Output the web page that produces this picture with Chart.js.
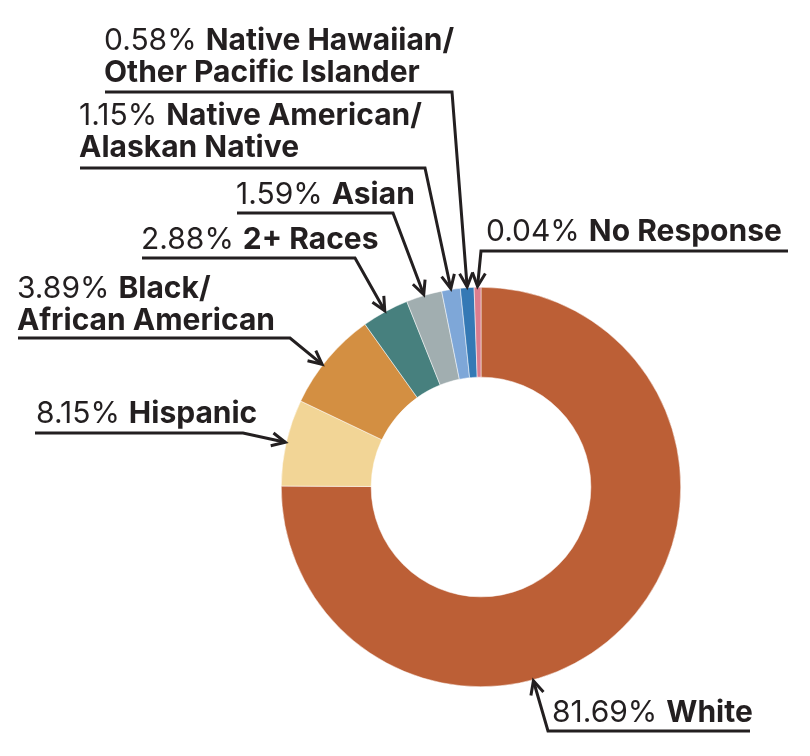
<!DOCTYPE html>
<html>
<head>
<meta charset="utf-8">
<style>
  html, body { margin: 0; padding: 0; background: #fff; }
  #wrap { width: 810px; height: 756px; }
</style>
<script src="https://cdn.jsdelivr.net/npm/chart.js@4.4.1/dist/chart.umd.min.js"></script>
</head>
<body>
<div id="wrap"><canvas id="race" width="810" height="756"></canvas></div>
<script>
// slice order runs clockwise from 12 o'clock
var groups = ['White', 'Hispanic', 'Black/African American', '2+ Races', 'Asian',
              'Native American/Alaskan Native', 'Native Hawaiian/Other Pacific Islander', 'No Response'];
// slice sizes as drawn in the picture (share of the ring, %)
var sliceShares = [75.0, 7.0, 8.05, 3.8, 2.9, 1.5, 1.1, 0.55];
// printed percentages next to each label
var pctLabels = ['81.69%', '8.15%', '3.89%', '2.88%', '1.59%', '1.15%', '0.58%', '0.04%'];
var nameLines = [['White'], ['Hispanic'], ['Black/', 'African American'], ['2+ Races'], ['Asian'],
                 ['Native American/', 'Alaskan Native'], ['Native Hawaiian/', 'Other Pacific Islander'], ['No Response']];
var sliceColors = ['#bc5f36', '#f2d596', '#d38f42', '#47807e', '#a1aeb0', '#7ea7d8', '#3479b5', '#db7d8e'];

// callout layout: text start, first baseline, underline, elbow side, where along the slice the arrow lands
var callouts = [
  { x: 552, y: 722, lineY: 731, x0: 548, x1: 750, elbow: 'left',  frac: 0.61 },
  { x: 36,  y: 423, lineY: 433, x0: 35,  x1: 243, elbow: 'right', frac: 0.5 },
  { x: 17,  y: 298, lineY: 338, x0: 18,  x1: 290, elbow: 'right', frac: 0.42 },
  { x: 141, y: 249, lineY: 258, x0: 142, x1: 355, elbow: 'right', frac: 0.5 },
  { x: 236, y: 204, lineY: 213, x0: 237, x1: 393, elbow: 'right', frac: 0.5 },
  { x: 79,  y: 125, lineY: 168, x0: 80,  x1: 425, elbow: 'right', frac: 0.5 },
  { x: 104, y: 50,  lineY: 92,  x0: 105, x1: 452, elbow: 'right', frac: 0.5 },
  { x: 486, y: 241, lineY: 251, x0: 481, x1: 788, elbow: 'left',  frac: 0.5 }
];

var ink = '#231f20';
var fontFam = 'Inter, Lato, sans-serif';
var fontSize = 30;
var lineGap = 32;

function arrowHead(ctx, fx, fy, tx, ty) {
  var a = Math.atan2(ty - fy, tx - fx);
  var len = 15, spread = 0.45;
  ctx.beginPath();
  ctx.moveTo(tx - len * Math.cos(a - spread), ty - len * Math.sin(a - spread));
  ctx.lineTo(tx, ty);
  ctx.lineTo(tx - len * Math.cos(a + spread), ty - len * Math.sin(a + spread));
  ctx.stroke();
}

var calloutPlugin = {
  id: 'callouts',
  afterDraw: function(chart) {
    var ctx = chart.ctx;
    var arcs = chart.getDatasetMeta(0).data;
    ctx.save();
    ctx.strokeStyle = ink;
    ctx.fillStyle = ink;
    ctx.lineWidth = 3;
    ctx.lineJoin = 'miter';
    ctx.textBaseline = 'alphabetic';
    callouts.forEach(function(c, i) {
      var arc = arcs[i];
      var ang = arc.startAngle + (arc.endAngle - arc.startAngle) * c.frac;
      var r = arc.outerRadius + 1;
      var tx = arc.x + r * Math.cos(ang);
      var ty = arc.y + r * Math.sin(ang);
      var ex = c.elbow === 'left' ? c.x0 : c.x1;
      var sx = c.elbow === 'left' ? c.x1 : c.x0;

      ctx.beginPath();
      ctx.moveTo(sx, c.lineY);
      ctx.lineTo(ex, c.lineY);
      ctx.lineTo(tx, ty);
      ctx.stroke();
      arrowHead(ctx, ex, c.lineY, tx, ty);

      // text: number regular, group name bold
      var lines = nameLines[i];
      ctx.font = '400 ' + fontSize + 'px ' + fontFam;
      var pct = pctLabels[i];
      ctx.fillText(pct, c.x, c.y);
      var w = ctx.measureText(pct).width + 9;
      ctx.font = '700 ' + fontSize + 'px ' + fontFam;
      ctx.fillText(lines[0], c.x + w, c.y);
      for (var k = 1; k < lines.length; k++) {
        ctx.fillText(lines[k], c.x, c.y + k * lineGap);
      }
    });
    ctx.restore();
  }
};

var ctxRace = document.getElementById('race');
var raceChart = new Chart(ctxRace, {
  type: 'doughnut',
  data: {
    labels: groups,
    datasets: [{
      data: sliceShares,
      backgroundColor: sliceColors,
      borderColor: '#ffffff',
      borderWidth: 0.5
    }]
  },
  options: {
    responsive: false,
    animation: false,
    devicePixelRatio: 1,
    cutout: '55%',
    layout: { padding: { left: 281, right: 129, top: 287, bottom: 69 } },
    plugins: {
      legend: { display: false },
      tooltip: { enabled: false }
    }
  },
  plugins: [calloutPlugin]
});
</script>
</body>
</html>
